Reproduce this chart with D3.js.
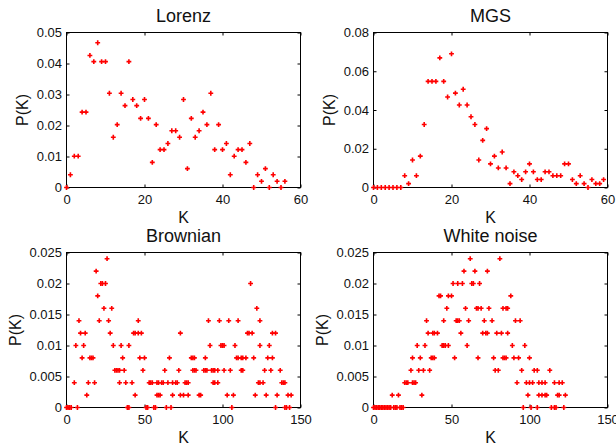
<!DOCTYPE html>
<html>
<head>
<meta charset="utf-8">
<script src="https://cdn.jsdelivr.net/npm/d3@7"></script>
<style>
  body { margin: 0; background: #fff; }
  text { font-family: "Liberation Sans", Arial, sans-serif; fill: #111; }
</style>
</head>
<body>
<svg id="chart" width="616" height="447"></svg>
<script>
// ---- data ----

// Lorenz: P(K) for K = 0..56
var lorenzP = [0, 0.0041, 0.0101, 0.0101, 0.0243, 0.0243, 0.0426, 0.0406, 0.0467, 0.0406,
  0.0406, 0.0304, 0.0162, 0.0203, 0.0304, 0.0264, 0.0406, 0.0284, 0.0264, 0.0223,
  0.0284, 0.0223, 0.0081, 0.0203, 0.0122, 0.0122, 0.0142, 0.0183, 0.0183, 0.0162,
  0.0284, 0.0061, 0.0223, 0.0162, 0.0183, 0.0243, 0.0203, 0.0304, 0.0122, 0.0203,
  0.0122, 0.0142, 0.0041, 0.0101, 0.0122, 0.0122, 0.0081, 0.0142, 0, 0.0041,
  0.0020, 0.0061, 0, 0.0041, 0.0020, 0, 0.0020];

// MGS: P(K) for K = 0..59
var mgsP = [0, 0, 0, 0, 0, 0, 0, 0, 0.0061, 0.0020,
  0.0142, 0.0061, 0.0162, 0.0325, 0.0548, 0.0548, 0.0548, 0.0669, 0.0548, 0.0467,
  0.0690, 0.0487, 0.0426, 0.0507, 0.0426, 0.0365, 0.0325, 0.0142, 0.0243, 0.0304,
  0.0122, 0.0162, 0.0101, 0.0183, 0.0101, 0.0020, 0.0081, 0.0061, 0.0041, 0.0081,
  0.0122, 0.0081, 0.0041, 0.0041, 0.0081, 0.0081, 0.0061, 0.0061, 0.0061, 0.0122,
  0.0122, 0.0041, 0.0020, 0.0061, 0.0020, 0, 0.0041, 0.0020, 0.0020, 0.0041];

// Brownian: [K, P(K)]
var brownian = [
  [0,0],[1,0],[2,0],[3,0],[7,0],[39,0],[40,0],[51,0],[52,0],[56,0],[57,0],[64,0],[67,0],[106,0],[134,0],[140,0],[141,0],[143,0],
  [13,.002],[44,.002],[58,.002],[59,.002],[60,.002],[68,.002],[73,.002],[75,.002],[78,.002],[85,.002],[86,.002],[103,.002],[107,.002],[121,.002],[128,.002],[135,.002],[142,.002],[144,.002],
  [5,.004],[14,.004],[18,.004],[34,.004],[38,.004],[42,.004],[53,.004],[54,.004],[55,.004],[58,.004],[59,.004],[61,.004],[62,.004],[65,.004],[68,.004],[70,.004],[71,.004],[76,.004],[77,.004],[78,.004],[94,.004],[95,.004],[97,.004],[123,.004],[124,.004],[126,.004],[138,.004],[139,.004],[140,.004],
  [31,.006],[32,.006],[33,.006],[34,.006],[37,.006],[49,.006],[63,.006],[72,.006],[81,.006],[82,.006],[83,.006],[88,.006],[89,.006],[90,.006],[93,.006],[94,.006],[95,.006],[97,.006],[101,.006],[105,.006],[112,.006],[113,.006],[127,.006],[131,.006],[137,.006],
  [10,.008],[15,.008],[16,.008],[17,.008],[36,.008],[47,.008],[50,.008],[66,.008],[80,.008],[81,.008],[82,.008],[89,.008],[109,.008],[110,.008],[112,.008],[113,.008],[115,.008],[120,.008],[129,.008],[132,.008],
  [6,.010],[11,.010],[30,.010],[35,.010],[40,.010],[92,.010],[99,.010],[100,.010],[101,.010],[108,.010],[124,.010],[130,.010],
  [9,.012],[12,.012],[28,.012],[43,.012],[44,.012],[46,.012],[48,.012],[73,.012],[116,.012],[117,.012],[119,.012],[132,.012],[134,.012],
  [8,.014],[21,.014],[27,.014],[46,.014],[91,.014],[98,.014],[104,.014],[110,.014],[124,.014],
  [24,.016],[29,.016],[122,.016],
  [20,.018],
  [22,.020],[23,.020],[25,.020],[118,.020],
  [19,.022],
  [26,.024]
];

// White noise: [K, P(K)]
var whiteNoise = [
  [0,0],[1,0],[2,0],[3,0],[4,0],[5,0],[6,0],[7,0],[8,0],[9,0],[10,0],[11,0],[13,0],[14,0],[15,0],[17,0],[18,0],[19,0],[96,0],[101,0],[105,0],[114,0],[116,0],[117,0],[122,0],
  [12,.002],[16,.002],[31,.002],[99,.002],[106,.002],[108,.002],[110,.002],[111,.002],[118,.002],[119,.002],[123,.002],
  [20,.004],[21,.004],[22,.004],[25,.004],[26,.004],[27,.004],[92,.004],[98,.004],[100,.004],[102,.004],[106,.004],[108,.004],[110,.004],[116,.004],[119,.004],[121,.004],
  [24,.006],[29,.006],[32,.006],[36,.006],[78,.006],[80,.006],[95,.006],[103,.006],[105,.006],[113,.006],
  [25,.008],[30,.008],[37,.008],[38,.008],[39,.008],[52,.008],[67,.008],[77,.008],[83,.008],[84,.008],[85,.008],[90,.008],[93,.008],[100,.008],
  [28,.010],[33,.010],[44,.010],[45,.010],[46,.010],[48,.010],[60,.010],[89,.010],[97,.010],
  [35,.012],[38,.012],[39,.012],[41,.012],[56,.012],[70,.012],[72,.012],[73,.012],[79,.012],[82,.012],[86,.012],
  [34,.014],[45,.014],[53,.014],[54,.014],[55,.014],[61,.014],[71,.014],[76,.014],[91,.014],[94,.014],
  [47,.016],[59,.016],[66,.016],[67,.016],[69,.016],[74,.016],[83,.016],[85,.016],[86,.016],
  [42,.018],[43,.018],[48,.018],[50,.018],[88,.018],
  [51,.020],[54,.020],[57,.020],[63,.020],[64,.020],[68,.020],
  [58,.022],[65,.022],[73,.022],
  [62,.024],[81,.024]
];

// tick labels
var xTicks60 = [0, 20, 40, 60];
var xTicks150 = [0, 50, 100, 150];
var yTicksLorenz = ["0", "0.01", "0.02", "0.03", "0.04", "0.05"];
var yTicksMGS = ["0", "0.02", "0.04", "0.06", "0.08"];
var yTicks025 = ["0", "0.005", "0.01", "0.015", "0.02", "0.025"];

// ---- panels ----
var panels = [
  {title: "Lorenz", points: lorenzP.map((p, k) => [k, p]), xMax: 60, xTicks: xTicks60, yMax: 0.05, yTicks: yTicksLorenz,
   left: 66.5, right: 300.5, top: 32.5, bottom: 187.5, ylabOff: 38.5},
  {title: "MGS", points: mgsP.map((p, k) => [k, p]), xMax: 60, xTicks: xTicks60, yMax: 0.08, yTicks: yTicksMGS,
   left: 373.5, right: 607.5, top: 32.5, bottom: 187.5, ylabOff: 38.5},
  {title: "Brownian", points: brownian, xMax: 150, xTicks: xTicks150, yMax: 0.025, yTicks: yTicks025,
   left: 66.5, right: 300.5, top: 252.5, bottom: 407.5, ylabOff: 46},
  {title: "White noise", points: whiteNoise, xMax: 150, xTicks: xTicks150, yMax: 0.025, yTicks: yTicks025,
   left: 373.5, right: 607.5, top: 252.5, bottom: 407.5, ylabOff: 46}
];

var svg = d3.select("#chart");
var marker = d3.symbol().type(d3.symbolCross).size(13);

panels.forEach(function(p) {
  var x = d3.scaleLinear().domain([0, p.xMax]).range([p.left, p.right]);
  var y = d3.scaleLinear().domain([0, p.yMax]).range([p.bottom, p.top]);
  var yVals = p.yTicks.map(Number);

  var g = svg.append("g");

  // ticks on all four sides, pointing inwards
  var bottom = g.append("g")
    .attr("transform", "translate(0," + p.bottom + ")")
    .call(d3.axisBottom(x).tickValues(p.xTicks).tickSize(-3).tickPadding(7).tickFormat(d3.format("d")));
  var left = g.append("g")
    .attr("transform", "translate(" + p.left + ",0)")
    .call(d3.axisLeft(y).tickValues(yVals).tickSize(-3).tickPadding(4.5).tickFormat((d, i) => p.yTicks[i]));
  var top = g.append("g")
    .attr("transform", "translate(0," + p.top + ")")
    .call(d3.axisTop(x).tickValues(p.xTicks).tickSize(-3).tickFormat(""));
  var right = g.append("g")
    .attr("transform", "translate(" + p.right + ",0)")
    .call(d3.axisRight(y).tickValues(yVals).tickSize(-3).tickFormat(""));

  [bottom, left, top, right].forEach(function(a) {
    a.select(".domain").remove();
    a.selectAll("line").attr("stroke", "#000");
    a.selectAll("text").attr("font-size", 13).attr("fill", "#111")
      .style("font-family", "'Liberation Sans', Arial, sans-serif");
  });

  // frame
  g.append("rect")
    .attr("x", p.left).attr("y", p.top)
    .attr("width", p.right - p.left).attr("height", p.bottom - p.top)
    .attr("fill", "none").attr("stroke", "#000");

  // title
  g.append("text")
    .attr("x", (p.left + p.right) / 2)
    .attr("y", p.top - 11)
    .attr("text-anchor", "middle")
    .attr("font-size", 18)
    .text(p.title);

  // x label
  g.append("text")
    .attr("x", (p.left + p.right) / 2)
    .attr("y", p.bottom + 35)
    .attr("text-anchor", "middle")
    .attr("font-size", 16)
    .text("K");

  // y label
  g.append("text")
    .attr("transform", "translate(" + (p.left - p.ylabOff) + "," + ((p.top + p.bottom) / 2) + ") rotate(-90)")
    .attr("text-anchor", "middle")
    .attr("font-size", 16)
    .text("P(K)");

  // points
  g.append("g")
    .selectAll("path")
    .data(p.points)
    .enter()
    .append("path")
    .attr("d", marker)
    .attr("transform", d => "translate(" + x(d[0]) + "," + y(d[1]) + ")")
    .attr("fill", "#ff0000");
});
</script>
</body>
</html>
